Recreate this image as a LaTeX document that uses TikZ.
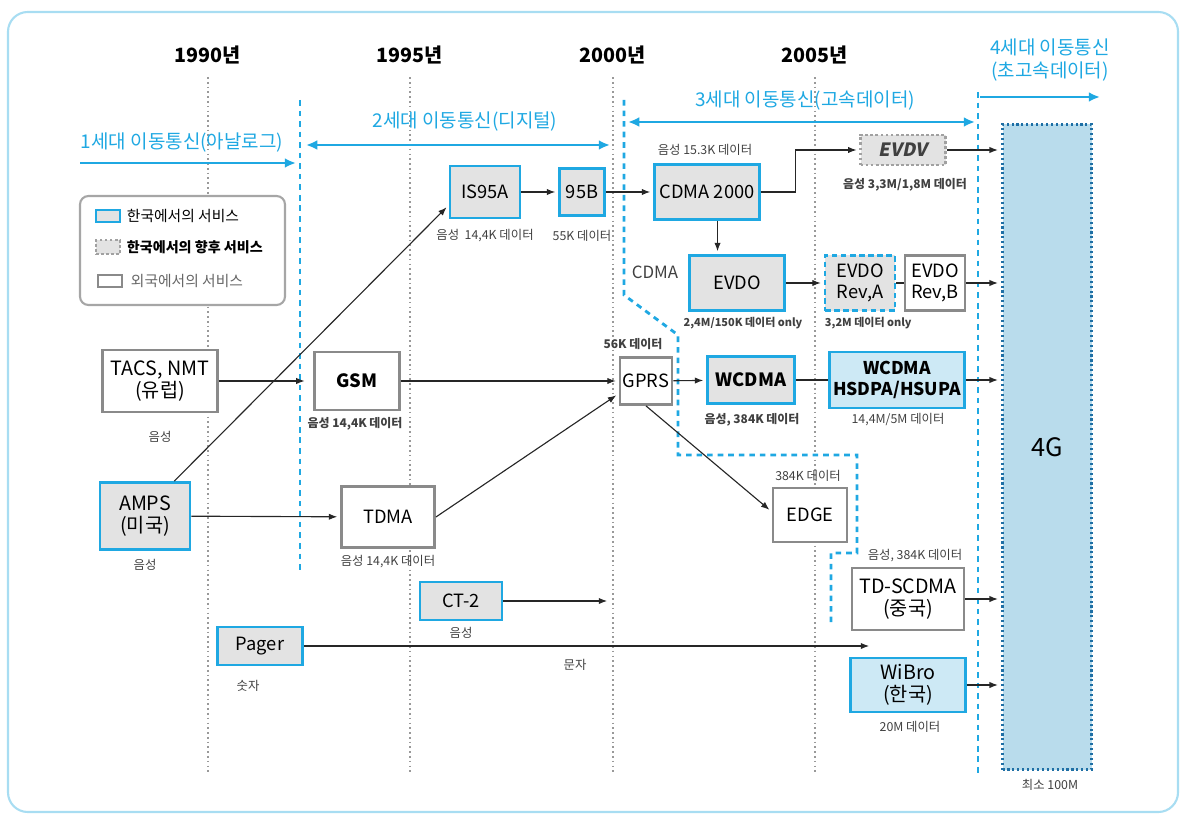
\documentclass[tikz,border=0pt]{standalone}
\usepackage{fontspec}
\setmainfont{Noto Sans CJK KR}
\newfontfamily\slantfont[FakeSlant=0.2]{Noto Sans CJK KR}
\usetikzlibrary{arrows.meta,positioning,calc}
\definecolor{kblue}{HTML}{1FA8E2}
\definecolor{kgray}{HTML}{E3E3E3}
\definecolor{kline}{HTML}{8A8A8A}
\definecolor{klight}{HTML}{CDE9F5}
\definecolor{kfour}{HTML}{B9DCEC}
\definecolor{kdeep}{HTML}{1E6FA5}
\definecolor{kframe}{HTML}{A8DDF2}
\definecolor{ktext}{HTML}{404040}

\begin{document}
\begin{tikzpicture}[x=0.025cm,y=-0.025cm,
    box/.style={draw=kblue,line width=2pt,fill=kgray,align=center,inner sep=1pt,
        font=\fontsize{13}{14.5}\selectfont},
    forbox/.style={box,draw=kline,fill=white},
    futbox/.style={box,draw=kline!80,line width=1.6pt,dash pattern=on 2pt off 1.6pt},
    futblue/.style={box,dash pattern=on 4pt off 2.5pt},
    note/.style={font=\fontsize{8.8}{10}\selectfont,text=ktext},
    bnote/.style={note,font=\bfseries\fontsize{8.5}{10}\selectfont},
    arr/.style={-{Latex[length=6pt,width=4.5pt]},line width=0.8pt,draw=black!85,shorten >=2pt},
    link/.style={line width=0.8pt,draw=black!85},
    gen/.style={draw=kblue,line width=2pt},
    genlab/.style={text=kblue,font=\fontsize{13.5}{16}\selectfont},
    year/.style={font=\bfseries\fontsize{14}{16}\selectfont},
    yearline/.style={draw=black!40,line width=1.2pt,dash pattern=on 1.2pt off 2.2pt},
    bound/.style={draw=kblue,line width=2pt,dash pattern=on 4pt off 3.5pt}]
    \useasboundingbox (0,0) rectangle (1181,819);
    \draw[kframe,line width=1.5pt,rounded corners=14pt] (8,12) rectangle (1178,812);

    % years
    \foreach \yr/\xx in {1990/208,1995/410,2000/613,2005/815}{
        \node[year] (y\yr) at (\xx,55) {{\yr}년};
        \draw[yearline] (y\yr.south) ++(0,8) -- (\xx,772);
    }

    % generation borders
    \draw[bound] (300,100) -- (300,572);
    \draw[bound] (624,100) -- (624,295) -- (678,335) -- (678,455) -- (857,455) -- (857,553) -- (831,553) -- (831,627);
    \draw[bound] (978,92) -- (978,775);

    \node[genlab,anchor=west] (g1) at (76,143) {1세대 이동통신(아날로그)};
    \coordinate (g1a) at (80,163);
    \coordinate (g1b) at (296,163);
    \draw[gen,-{Latex[length=8pt,width=7pt]}] (g1a) -- (g1b);
    \node[genlab] (g2) at (465,122) {2세대 이동통신(디지털)};
    \coordinate (g2a) at (306,145);
    \coordinate (g2b) at (610,145);
    \draw[gen,{Latex[length=8pt,width=7pt]}-{Latex[length=8pt,width=7pt]}] (g2a) -- (g2b);
    \node[genlab] (g3) at (805,101) {3세대 이동통신(고속데이터)};
    \coordinate (g3a) at (628,122);
    \coordinate (g3b) at (975,122);
    \draw[gen,{Latex[length=8pt,width=7pt]}-{Latex[length=8pt,width=7pt]}] (g3a) -- (g3b);
    \node[genlab,align=center] (g4) at (1050,60) {4세대 이동통신\\(초고속데이터)};
    \coordinate (g4a) at (980,97);
    \coordinate (g4b) at (1100,97);
    \draw[gen,-{Latex[length=8pt,width=7pt]}] (g4a) -- (g4b);

    % legend
    \draw[draw=black!35,line width=1.5pt,rounded corners=6pt,fill=white] (80,196) rectangle (285,305);
    \node[box,line width=1.3pt,minimum width=0.6cm,minimum height=0.3cm] (lg1) at (108,216) {};
    \node[anchor=west,font=\fontsize{10.5}{12}\selectfont] (lt1) at (122,216) {한국에서의 서비스};
    \node[futbox,line width=1.2pt,minimum width=0.6cm,minimum height=0.35cm] (lg2) at (108,247) {};
    \node[anchor=west,font=\bfseries\fontsize{10}{12}\selectfont] (lt2) at (122,247) {한국에서의 향후 서비스};
    \node[forbox,line width=1.2pt,minimum width=0.6cm,minimum height=0.3cm] (lg3) at (110,281) {};
    \node[anchor=west,font=\fontsize{10.5}{12}\selectfont,text=black!60] (lt3) at (126,281) {외국에서의 서비스};

    % CDMA line
    \node[box,minimum width=1.75cm,minimum height=1.3cm] (is95a) at (485,192) {IS95A};
    \node[note] (is95al) at (485,236) {음성\ \ 14,4K 데이터};
    \node[box,minimum width=1.125cm,minimum height=1.175cm] (b95) at (582,192) {95B};
    \node[note] (b95l) at (582,236) {55K 데이터};
    \node[box,minimum width=2.625cm,minimum height=1.375cm] (cdma) at (707,192) {CDMA 2000};
    \node[note] (cdmal) at (705,150) {음성 15.3K 데이터};
    \node[futbox,minimum width=2.125cm,minimum height=0.75cm,text=black!75] (evdv) at (903,150) {\slantfont\bfseries EVDV};
    \node[bnote] (evdvl) at (905,185) {음성 3,3M/1,8M 데이터};
    \node[box,minimum width=2.375cm,minimum height=1.375cm] (evdo) at (737,283) {EVDO};
    \node[font=\fontsize{12}{13}\selectfont,text=ktext] (cdmatag) at (655,272) {CDMA};
    \node[bnote,font=\bfseries\fontsize{7.8}{9}\selectfont] (evdol) at (743,323) {2,4M/150K 데이터 only};
    \node[futblue,minimum width=1.75cm,minimum height=1.375cm] (reva) at (860,283) {EVDO\\Rev,A};
    \node[forbox,minimum width=1.5cm,minimum height=1.375cm] (revb) at (935,283) {EVDO\\Rev,B};
    \node[bnote,font=\bfseries\fontsize{7.8}{9}\selectfont,anchor=west] (reval) at (820,323) {3,2M 데이터 only};

    % GSM line
    \node[forbox,minimum width=2.875cm,minimum height=1.55cm,font=\fontsize{14}{16}\selectfont] (tacs) at (160,381) {TACS, NMT\\(유럽)};
    \node[note] (tacsl) at (160,437) {음성};
    \node[forbox,minimum width=2.125cm,minimum height=1.45cm,font=\bfseries\fontsize{13}{14.5}\selectfont] (gsm) at (357,381) {GSM};
    \node[bnote] (gsml) at (355,424) {음성 14,4K 데이터};
    \node[forbox,minimum width=1.3cm,minimum height=1.175cm] (gprs) at (646,381) {GPRS};
    \node[bnote] (gprsl) at (633,344) {56K 데이터};
    \node[box,minimum width=2.175cm,minimum height=1.175cm,font=\bfseries\fontsize{13}{14.5}\selectfont] (wcdma) at (751,380) {WCDMA};
    \node[bnote] (wcdmal) at (752,420) {음성, 384K 데이터};
    \node[box,fill=klight,minimum width=3.375cm,minimum height=1.4cm,font=\bfseries\fontsize{12.5}{14.5}\selectfont] (hsdpa) at (897,380) {WCDMA\\HSDPA/HSUPA};
    \node[note] (hsdpal) at (898,420) {14,4M/5M 데이터};
    \node[forbox,minimum width=1.85cm,minimum height=1.35cm] (edge) at (810,515) {EDGE};
    \node[note] (edgel) at (808,476) {384K 데이터};

    % TDMA line
    \node[box,minimum width=2.25cm,minimum height=1.675cm,font=\fontsize{14}{16}\selectfont] (amps) at (145,516) {AMPS\\(미국)};
    \node[note] (ampsl) at (145,565) {음성};
    \node[forbox,minimum width=2.325cm,minimum height=1.525cm] (tdma) at (388,517) {TDMA};
    \node[note] (tdmal) at (388,562) {음성 14,4K 데이터};
    \node[forbox,minimum width=2.8cm,minimum height=1.55cm,font=\fontsize{14}{16}\selectfont] (tdscdma) at (908,599) {TD-SCDMA\\(중국)};
    \node[note] (tdscdmal) at (915,556) {음성, 384K 데이터};

    % others
    \node[box,minimum width=2.05cm,minimum height=0.95cm] (ct2) at (461,601) {CT-2};
    \node[note] (ct2l) at (461,633) {음성};
    \node[box,minimum width=2.125cm,minimum height=0.95cm] (pager) at (260,646) {Pager};
    \node[note] (pagerl) at (248,686) {숫자};
    \node[note] (pagerm) at (575,665) {문자};
    \node[box,fill=klight,minimum width=2.875cm,minimum height=1.35cm,font=\fontsize{14}{16}\selectfont] (wibro) at (908,685) {WiBro\\(한국)};
    \node[note] (wibrol) at (910,727) {20M 데이터};
    \node[draw=kdeep,line width=2.5pt,dash pattern=on 1.5pt off 2pt,fill=kfour,
        minimum width=2.225cm,minimum height=16.125cm,font=\fontsize{18}{20}\selectfont] (fourg) at (1047,447) {4G};
    \node[note] (fourgl) at (1050,785) {최소 100M};
    \coordinate (ct2end) at (610,601);
    \coordinate (pagerend) at (872,646);

    % connectors
    \draw[arr,shorten >=6pt] (tacs) -- (gsm);
    \draw[arr] (amps.50) -- (is95a.200);
    \draw[arr] (amps) -- (tdma);
    \draw[arr] (gsm) -- (gprs);
    \draw[arr] (tdma.east) -- (gprs.205);
    \draw[arr] (gprs) -- (wcdma);
    \draw[arr] (gprs.south) -- (edge.175);
    \draw[link] (wcdma) -- (hsdpa);
    \draw[arr] (hsdpa) -- (hsdpa -| fourg.west);
    \draw[arr] (is95a) -- (b95);
    \draw[arr] (b95) -- (cdma);
    \draw[arr] (cdma.east) -- ++(35,0) |- (evdv.west);
    \draw[arr] (evdv) -- (evdv -| fourg.west);
    \draw[arr] (cdma.290) -- (cdma.290 |- evdo.north);
    \draw[arr] (evdo) -- (reva);
    \draw[link] (reva) -- (revb);
    \draw[arr] (revb) -- (revb -| fourg.west);
    \draw[arr] (tdscdma) -- (tdscdma -| fourg.west);
    \draw[arr] (wibro) -- (wibro -| fourg.west);
    \draw[arr] (ct2) -- (ct2end);
    \draw[arr] (pager) -- (pagerend);
\end{tikzpicture}
\end{document}
